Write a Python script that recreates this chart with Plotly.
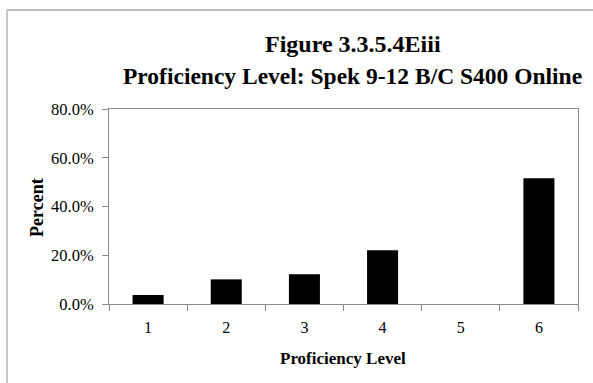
import plotly.graph_objects as go

levels = ["1", "2", "3", "4", "5", "6"]
percent = [3.7, 10.1, 12.2, 22.1, 0.0, 51.6]
y_ticks = [0, 20, 40, 60, 80]
y_tick_labels = ["0.0%", "20.0%", "40.0%", "60.0%", "80.0%"]

W, H = 593, 383
ml, mr, mt, mb = 109, 15, 109, 79
pw = W - ml - mr
ph = H - mt - mb

def px(x):
    return (x - ml) / pw

def py(y):
    return (H - mb - y) / ph

fig = go.Figure(go.Bar(x=levels, y=percent,
                       marker=dict(color="black", line=dict(width=0))))

font = "Liberation Serif, Times New Roman, serif"
fig.update_layout(
    width=W, height=H,
    margin=dict(l=ml, r=mr, t=mt, b=mb),
    paper_bgcolor="white", plot_bgcolor="white",
    bargap=0.603,
    showlegend=False,
    font=dict(family=font, color="black"),
)
fig.update_xaxes(
    showline=True, linecolor="#8a8a8a", linewidth=1, mirror=True,
    ticks="outside", tickson="boundaries", ticklen=6, tickcolor="#8a8a8a",
    tickfont=dict(size=16, family=font), ticklabelstandoff=9,
    showgrid=False,
)
fig.update_yaxes(
    range=[0, 80], tickvals=y_ticks, ticktext=y_tick_labels,
    showline=True, linecolor="#8a8a8a", linewidth=1, mirror=True,
    ticks="outside", ticklen=6, tickcolor="#8a8a8a",
    tickfont=dict(size=16.5, family=font), ticklabelstandoff=5,
    showgrid=False, zeroline=False,
)
annos = [
    dict(text="<b>Figure 3.3.5.4Eiii</b>", x=px(353), y=py(44), size=24, angle=0),
    dict(text="<b>Proficiency Level: Spek 9-12 B/C S400 Online</b>", x=px(352), y=py(76), size=23.5, angle=0),
    dict(text="<b>Proficiency Level</b>", x=px(343), y=py(358), size=17, angle=0),
    dict(text="<b>Percent</b>", x=px(37), y=py(208), size=18, angle=-90),
]
for a in annos:
    fig.add_annotation(text=a["text"], x=a["x"], y=a["y"], xref="paper", yref="paper",
                       xanchor="center", yanchor="middle", showarrow=False, textangle=a["angle"],
                       font=dict(family=font, size=a["size"], color="black"))
# outer chart frame
fig.add_shape(type="rect", xref="paper", yref="paper",
              x0=px(7), x1=px(W + 5), y0=py(H + 5), y1=py(10),
              line=dict(color="#aaaaaa", width=1.3), fillcolor="rgba(0,0,0,0)", layer="below")
fig.write_html("out.html", config={"displayModeBar": False},
               post_script="document.body.style.margin='0px';document.body.style.overflow='hidden';")
